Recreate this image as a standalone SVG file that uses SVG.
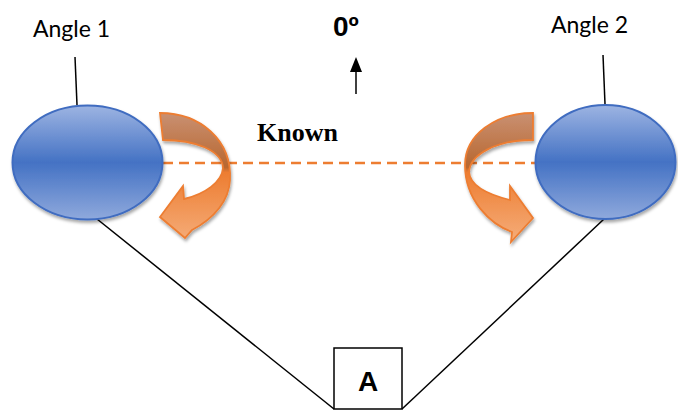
<svg xmlns="http://www.w3.org/2000/svg" width="678" height="410" viewBox="0 0 678 410">
  <style>
    .label { font-family: "Lato", "Liberation Sans", sans-serif; font-size: 23px; fill: #000; }
    .bold { font-family: "Liberation Sans", Arial, sans-serif; font-weight: bold; fill: #000; }
    .serif { font-family: "Liberation Serif", "Times New Roman", serif; font-weight: bold; font-size: 26px; fill: #000; }
    .wire { stroke: #000; stroke-width: 1.5; fill: none; }
    .disc { fill: url(#discFill); stroke: #3f6cc0; stroke-width: 2; filter: url(#shadow); }
    .twist { fill: url(#arrowFill); stroke: #ed7d31; stroke-width: 1.8; stroke-linejoin: miter; filter: url(#shadow); }
  </style>
  <defs>
    <linearGradient id="discFill" x1="0" y1="0" x2="0" y2="1">
      <stop offset="0" stop-color="#9db4e2"/>
      <stop offset="0.5" stop-color="#4472c4"/>
      <stop offset="1" stop-color="#8fa9dc"/>
    </linearGradient>
    <linearGradient id="arrowFill" gradientUnits="userSpaceOnUse" x1="0" y1="113" x2="0" y2="242">
      <stop offset="0" stop-color="#c99072"/>
      <stop offset="0.42" stop-color="#b8672f"/>
      <stop offset="0.46" stop-color="#ed7d31"/>
      <stop offset="1" stop-color="#f5ad7a"/>
    </linearGradient>
    <filter id="shadow" x="-10%" y="-10%" width="125%" height="130%">
      <feDropShadow dx="1" dy="2.5" stdDeviation="1.5" flood-color="#000" flood-opacity="0.35"/>
    </filter>
    <marker id="head" viewBox="0 0 15 12" refX="0" refY="6" markerWidth="15" markerHeight="12" markerUnits="userSpaceOnUse" orient="auto">
      <path d="M0 0 L15 6 L0 12 Z" fill="#000"/>
    </marker>
  </defs>

  <!-- connectors -->
  <g id="connectors">
    <line class="wire" x1="75" y1="57" x2="77" y2="105"/>
    <line class="wire" x1="603" y1="55" x2="605" y2="104"/>
    <line class="wire" x1="97" y1="219" x2="334" y2="409"/>
    <line class="wire" x1="604" y1="219" x2="402" y2="409"/>
    <line x1="163" y1="163" x2="535" y2="163" stroke="#ed7d31" stroke-width="2.5" stroke-dasharray="10 6"/>
    <line class="wire" x1="356" y1="94" x2="356" y2="72" stroke-width="2" marker-end="url(#head)"/>
  </g>

  <!-- angle discs -->
  <g id="disc1">
    <ellipse class="disc" cx="87.5" cy="162.5" rx="75" ry="57"/>
    <text class="label" x="33" y="37">Angle 1</text>
  </g>
  <g id="disc2">
    <ellipse class="disc" cx="605.5" cy="162" rx="70" ry="57"/>
    <text class="label" x="551" y="33">Angle 2</text>
  </g>

  <!-- rotation arrows -->
  <g id="turn1">
    <path class="twist" d="M160 113 C200 113 232 140 230 180 C229 200 215 218 192 230 L185 238 L160 217 L183 186 L184 199 C205 194 222 182 223 168 C222 150 195 140 163 140 Z"/>
  </g>
  <g id="turn2">
    <path class="twist" d="M533 113 C495 113 465 135 465 165 C465 200 490 224 512 232 L511 242 L533 218 L510 186 L510 200 C490 195 470 186 469 172 C470 155 495 140 533 140 Z"/>
  </g>

  <!-- reference direction -->
  <g id="zero">
    <text class="bold" x="333" y="36" font-size="28">0º</text>
  </g>
  <g id="known">
    <text class="serif" x="257" y="141">Known</text>
  </g>

  <!-- box A -->
  <g id="boxA">
    <rect x="334" y="348" width="68" height="61" fill="#fff" stroke="#000" stroke-width="1.5"/>
    <text class="bold" x="368" y="391" font-size="28" text-anchor="middle">A</text>
  </g>
</svg>
